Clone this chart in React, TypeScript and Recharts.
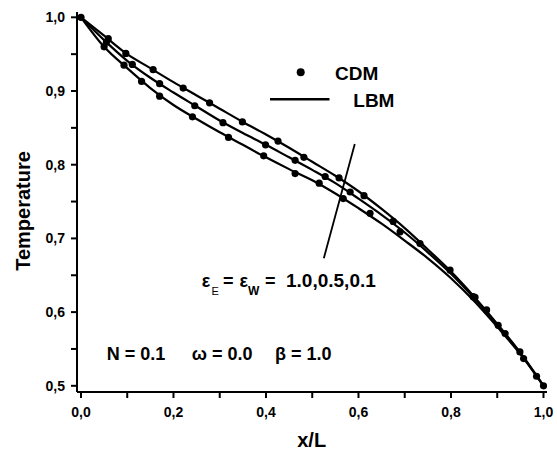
import { ComposedChart, Line, Scatter, XAxis, YAxis, ReferenceLine } from "recharts"

// x/L positions where the LBM curves were read
const gridX = [0, 0.05, 0.1, 0.15, 0.2, 0.25, 0.3, 0.35, 0.4, 0.45, 0.5, 0.55, 0.6, 0.65, 0.7, 0.75, 0.8, 0.85, 0.9, 0.95, 1.0]

// LBM temperature, eps = 1.0 / 0.5 / 0.1 (top to bottom)
const lbmEps10 = [1.0, 0.975, 0.95, 0.931, 0.912, 0.894, 0.876, 0.858, 0.841, 0.823, 0.804, 0.785, 0.764, 0.74, 0.714, 0.685, 0.655, 0.621, 0.584, 0.545, 0.5]
const lbmEps05 = [1.0, 0.969, 0.941, 0.918, 0.898, 0.879, 0.86, 0.843, 0.827, 0.81, 0.793, 0.775, 0.754, 0.732, 0.708, 0.681, 0.652, 0.619, 0.583, 0.544, 0.5]
const lbmEps01 = [1.0, 0.96, 0.931, 0.904, 0.881, 0.862, 0.844, 0.827, 0.81, 0.794, 0.779, 0.761, 0.741, 0.72, 0.697, 0.673, 0.646, 0.615, 0.58, 0.543, 0.5]

// CDM points
const cdmEps10X = [0, 0.059, 0.097, 0.156, 0.221, 0.278, 0.349, 0.426, 0.482, 0.558, 0.612, 0.675, 0.733, 0.798, 0.848, 0.902, 0.949, 0.985, 1.0]
const cdmEps10Y = [1.0, 0.971, 0.951, 0.929, 0.904, 0.884, 0.858, 0.832, 0.81, 0.782, 0.758, 0.723, 0.693, 0.657, 0.621, 0.582, 0.546, 0.513, 0.5]
const cdmEps05X = [0.055, 0.111, 0.17, 0.246, 0.307, 0.399, 0.463, 0.528, 0.582, 0.69, 0.877, 0.957]
const cdmEps05Y = [0.966, 0.936, 0.91, 0.88, 0.857, 0.827, 0.806, 0.784, 0.763, 0.709, 0.603, 0.537]
const cdmEps01X = [0.05, 0.093, 0.131, 0.17, 0.241, 0.319, 0.395, 0.463, 0.515, 0.567, 0.625, 0.852, 0.917]
const cdmEps01Y = [0.96, 0.935, 0.913, 0.893, 0.865, 0.837, 0.812, 0.788, 0.775, 0.754, 0.734, 0.62, 0.571]

const xTicks = [0, 0.1, 0.2, 0.3, 0.4, 0.5, 0.6, 0.7, 0.8, 0.9, 1.0]
const yTicks = [0.5, 0.55, 0.6, 0.65, 0.7, 0.75, 0.8, 0.85, 0.9, 0.95, 1.0]

// pointer line for the eps annotation
const arrowX = [0.592, 0.525]
const arrowY = [0.828, 0.673]

const toPoints = (xs: number[], ys: number[]) => xs.map((x, i) => ({ x, y: ys[i] }))

const FONT = "'Liberation Sans', Arial, sans-serif"

const fmtX = (v: number) => (Math.round(v * 10) % 2 === 0 ? v.toFixed(1).replace(".", ",") : "")
const fmtY = (v: number) => (Math.round(v * 100) % 10 === 0 ? v.toFixed(1).replace(".", ",") : "")

const Dot = (props: any) => <circle cx={props.cx} cy={props.cy} r={3.6} fill="#000" />

export default function App() {
  const curves = [lbmEps10, lbmEps05, lbmEps01].map((ys) => toPoints(gridX, ys))
  const dots = [
    toPoints(cdmEps10X, cdmEps10Y),
    toPoints(cdmEps05X, cdmEps05Y),
    toPoints(cdmEps01X, cdmEps01Y),
  ]
  const tickStyle = { fill: "#000", fontFamily: FONT, fontWeight: 700 }

  return (
    <div style={{ position: "absolute", left: 0, top: 0, width: 557, height: 454, background: "#fff" }}>
      <ComposedChart width={557} height={454} margin={{ top: 12, right: 10, bottom: 32, left: 0 }}>
        <XAxis
          type="number"
          dataKey="x"
          domain={[-0.0086, 1.0076]}
          ticks={xTicks}
          interval={0}
          tickFormatter={fmtX}
          height={30}
          tickSize={6}
          tickMargin={9}
          stroke="#000"
          strokeWidth={2}
          tick={{ ...tickStyle, fontSize: 14 }}
          allowDataOverflow
        />
        <YAxis
          type="number"
          dataKey="y"
          domain={[0.4916, 1.0072]}
          ticks={yTicks}
          interval={0}
          tickFormatter={fmtY}
          width={77}
          tickSize={6}
          tickMargin={6}
          stroke="#000"
          strokeWidth={2}
          tick={{ ...tickStyle, fontSize: 14 }}
          allowDataOverflow
        />
        {curves.map((d, i) => (
          <Line
            key={"lbm" + i}
            data={d}
            dataKey="y"
            type="monotone"
            stroke="#000"
            strokeWidth={2.2}
            dot={false}
            activeDot={false}
            isAnimationActive={false}
          />
        ))}
        {dots.map((d, i) => (
          <Scatter key={"cdm" + i} data={d} dataKey="y" shape={Dot} isAnimationActive={false} />
        ))}
        <ReferenceLine
          segment={[
            { x: arrowX[0], y: arrowY[0] },
            { x: arrowX[1], y: arrowY[1] },
          ]}
          stroke="#000"
          strokeWidth={1.8}
        />
      </ComposedChart>
      <svg
        width={557}
        height={454}
        style={{ position: "absolute", left: 0, top: 0, pointerEvents: "none" }}
        fontFamily={FONT}
        fontWeight={700}
      >
        {/* legend */}
        <circle cx={300.7} cy={72.3} r={4} fill="#000" />
        <text x={335} y={80} fontSize={19}>CDM</text>
        <line x1={270} y1={99.3} x2={329.5} y2={99.3} stroke="#000" strokeWidth={2.6} />
        <text x={353.3} y={107.3} fontSize={19}>LBM</text>

        {/* annotations */}
        <text x={201.7} y={286.7} fontSize={18}>ε</text>
        <text x={211.5} y={295} fontSize={11} fontWeight={400}>E</text>
        <text x={223} y={286.7} fontSize={18}>=</text>
        <text x={239.5} y={286.7} fontSize={18}>ε</text>
        <text x={248} y={295} fontSize={12}>W</text>
        <text x={265} y={286.7} fontSize={18}>=</text>
        <text x={286} y={286.7} fontSize={19}>1.0,0.5,0.1</text>

        <text x={106.7} y={360} fontSize={18}>N = 0.1</text>
        <text x={191.7} y={360} fontSize={18}>ω = 0.0</text>
        <text x={275} y={360} fontSize={18}>β = 1.0</text>

        {/* axis titles */}
        <text x={311.7} y={447.3} fontSize={20} textAnchor="middle">x/L</text>
        <text x={30} y={211} fontSize={20} textAnchor="middle" transform="rotate(-90 30 211)">Temperature</text>
      </svg>
    </div>
  )
}
